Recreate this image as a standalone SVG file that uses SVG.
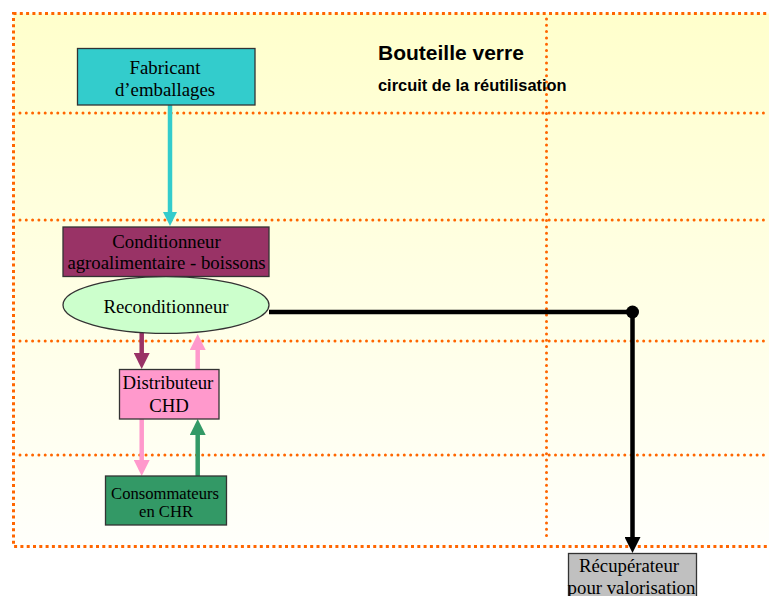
<svg xmlns="http://www.w3.org/2000/svg" width="769" height="596" viewBox="0 0 769 596">
<defs>
<linearGradient id="bg" x1="0" y1="0" x2="0" y2="1">
<stop offset="0" stop-color="#FFFFCC"/>
<stop offset="1" stop-color="#FFFFFB"/>
</linearGradient>
<marker id="hCyan" markerUnits="userSpaceOnUse" markerWidth="14" markerHeight="14" refX="0" refY="7" orient="auto"><path d="M0,0 L14,7 L0,14 z" fill="#33CCCC"/></marker>
<marker id="hMaroon" markerUnits="userSpaceOnUse" markerWidth="16" markerHeight="16" refX="0" refY="8" orient="auto"><path d="M0,0 L16,8 L0,16 z" fill="#993366"/></marker>
<marker id="hPink" markerUnits="userSpaceOnUse" markerWidth="16" markerHeight="16" refX="0" refY="8" orient="auto"><path d="M0,0 L16,8 L0,16 z" fill="#FF99CC"/></marker>
<marker id="hGreen" markerUnits="userSpaceOnUse" markerWidth="16" markerHeight="16" refX="0" refY="8" orient="auto"><path d="M0,0 L16,8 L0,16 z" fill="#339966"/></marker>
<marker id="hBlack" markerUnits="userSpaceOnUse" markerWidth="16" markerHeight="16" refX="0" refY="8" orient="auto"><path d="M0,0 L16,8 L0,16 z" fill="#000000"/></marker>
</defs>
<style>
.grid{stroke:#FF6600;stroke-width:3;stroke-dasharray:0 6.3;stroke-linecap:round;fill:none}
.box{stroke:#333333;stroke-width:1.3}
.lbl{font-family:"Liberation Serif","Times New Roman",serif;font-size:18.8px;fill:#000;text-anchor:middle}
.small{font-size:16.6px}
.title{font-family:"Liberation Sans",Arial,sans-serif;font-weight:bold;fill:#000}
.conn{fill:none;stroke-width:4.5}
</style>
<rect x="13.5" y="13.5" width="800" height="533" fill="url(#bg)" stroke="#FF6600" stroke-width="3" stroke-dasharray="3 3.3"/>
<g id="grid">
<line class="grid" x1="20" y1="113" x2="769" y2="113"/>
<line class="grid" x1="20" y1="220" x2="769" y2="220"/>
<line class="grid" x1="20" y1="341" x2="769" y2="341"/>
<line class="grid" x1="20" y1="455" x2="769" y2="455"/>
<line class="grid" x1="546.5" y1="19" x2="546.5" y2="541"/>
</g>
<g id="title">
<text class="title" x="378" y="60" font-size="21">Bouteille verre</text>
<text class="title" x="378" y="91" font-size="16.4">circuit de la réutilisation</text>
</g>
<g id="connectors">
<line class="conn" stroke="#33CCCC" x1="170" y1="105" x2="170" y2="212" marker-end="url(#hCyan)"/>
<line class="conn" stroke="#993366" x1="141.7" y1="333" x2="141.7" y2="353" marker-end="url(#hMaroon)"/>
<line class="conn" stroke="#FF99CC" x1="197.7" y1="369" x2="197.7" y2="350" marker-end="url(#hPink)"/>
<line class="conn" stroke="#FF99CC" x1="141.7" y1="419" x2="141.7" y2="460" marker-end="url(#hPink)"/>
<line class="conn" stroke="#339966" x1="197.7" y1="476" x2="197.7" y2="435" marker-end="url(#hGreen)"/>
<path class="conn" stroke="#000000" stroke-width="4" d="M269,312 H632.5 V537" marker-end="url(#hBlack)"/>
<circle cx="632.5" cy="312" r="6.5" fill="#000000"/>
</g>
<g id="fabricant">
<rect class="box" x="77.5" y="48.5" width="177.5" height="56.5" fill="#33CCCC"/>
<text class="lbl" x="165" y="73.5">Fabricant</text>
<text class="lbl" x="165" y="95.5">d’emballages</text>
</g>
<g id="conditionneur">
<rect class="box" x="63" y="227" width="206" height="49.5" fill="#993366"/>
<text class="lbl" x="166.5" y="248">Conditionneur</text>
<text class="lbl" x="166.5" y="269">agroalimentaire - boissons</text>
</g>
<g id="reconditionneur">
<ellipse class="box" cx="166" cy="305" rx="103" ry="28.3" fill="#CCFFCC"/>
<text class="lbl" x="166" y="312.5">Reconditionneur</text>
</g>
<g id="distributeur">
<rect class="box" x="119.5" y="369.5" width="99.5" height="49.5" fill="#FF99CC"/>
<text class="lbl" x="168" y="389">Distributeur</text>
<text class="lbl" x="169" y="411.5">CHD</text>
</g>
<g id="consommateurs">
<rect class="box" x="105.5" y="476" width="121" height="49" fill="#339966"/>
<text class="lbl small" x="165" y="498.5">Consommateurs</text>
<text class="lbl small" x="166" y="517">en CHR</text>
</g>
<g id="recuperateur">
<rect class="box" x="568.5" y="553.5" width="128" height="50" fill="#C0C0C0"/>
<text class="lbl" x="629" y="571.5">Récupérateur</text>
<text class="lbl" x="631.5" y="593.5">pour valorisation</text>
</g>
</svg>
